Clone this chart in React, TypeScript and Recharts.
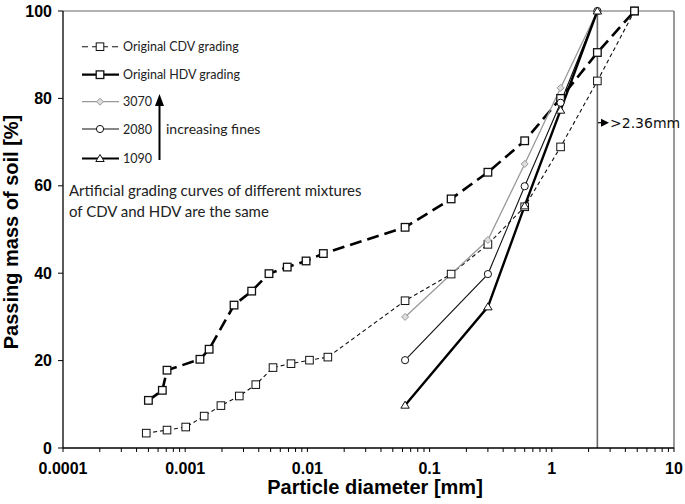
import { LineChart, Line, XAxis, YAxis, ReferenceLine, Legend } from 'recharts'

// ── data ──
const cdvSize = [0.00048, 0.00071, 0.00101, 0.00143, 0.00196, 0.00277, 0.00378, 0.00523, 0.00734, 0.0104, 0.0147, 0.063, 0.15, 0.3, 0.6, 1.18, 2.36, 4.75]
const cdvPassing = [3.4, 4.1, 4.8, 7.3, 9.7, 11.9, 14.5, 18.4, 19.3, 20.1, 20.8, 33.7, 39.8, 46.6, 55.2, 68.9, 84.0, 100]

const hdvSize = [0.0005, 0.00065, 0.00071, 0.00132, 0.00157, 0.00251, 0.0035, 0.00485, 0.00684, 0.00975, 0.0135, 0.063, 0.15, 0.3, 0.6, 1.18, 2.36, 4.75]
const hdvPassing = [10.9, 13.2, 17.8, 20.3, 22.6, 32.7, 35.9, 39.9, 41.4, 42.8, 44.5, 50.5, 57.0, 63.1, 70.3, 80.0, 90.5, 100]

const mixSize = [0.063, 0.3, 0.6, 1.18, 2.36]
const mix3070 = [30.0, 47.6, 65.0, 82.4, 100]
const mix2080 = [20.1, 39.8, 59.9, 79.0, 100]
const mix1090 = [9.8, 32.3, 55.4, 77.3, 100]

const xDecades = [0.0001, 0.001, 0.01, 0.1, 1, 10]
const xTickLabels = ['0.0001', '0.001', '0.01', '0.1', '1', '10']
const yTicks = [0, 20, 40, 60, 80, 100]

const zip = (xs: number[], ys: number[]) => xs.map((x, i) => ({ x, y: ys[i] }))

const xTicks: number[] = []
xDecades.slice(0, -1).forEach((d) => { for (let k = 1; k < 10; k++) xTicks.push(d * k) })
xTicks.push(10)

const TICK = { fill: '#000', fontSize: 16, fontWeight: 'bold', fontFamily: 'Liberation Sans, Arial, sans-serif' }

function squareDot(sw: number) {
    return (p: any) => (
        <rect key={p.key ?? p.index} x={p.cx - 3.8} y={p.cy - 3.8} width={7.6} height={7.6} fill="#fff" stroke="#111" strokeWidth={sw} />
    )
}
const circleDot = (p: any) => <circle key={p.key ?? p.index} cx={p.cx} cy={p.cy} r={3.6} fill="#fff" stroke="#111" strokeWidth={1} />
const diamondDot = (p: any) => (
    <path key={p.key ?? p.index} d={`M${p.cx},${p.cy - 3.5}L${p.cx + 3.5},${p.cy}L${p.cx},${p.cy + 3.5}L${p.cx - 3.5},${p.cy}Z`} fill="#ddd" stroke="#999" strokeWidth={1} />
)
const triangleDot = (p: any) => (
    <path key={p.key ?? p.index} d={`M${p.cx},${p.cy - 4}L${p.cx + 4.2},${p.cy + 3}L${p.cx - 4.2},${p.cy + 3}Z`} fill="#fff" stroke="#111" strokeWidth={1} />
)

const SERIES = [
    { name: 'Original CDV grading', data: zip(cdvSize, cdvPassing), stroke: '#111', width: 1.1, dash: '4 3', dot: squareDot(1) },
    { name: 'Original HDV grading', data: zip(hdvSize, hdvPassing), stroke: '#000', width: 2.6, dash: '12 6', dot: squareDot(1.3) },
    { name: '3070', data: zip(mixSize, mix3070), stroke: '#999', width: 1.3, dash: undefined, dot: diamondDot },
    { name: '2080', data: zip(mixSize, mix2080), stroke: '#111', width: 1.1, dash: undefined, dot: circleDot },
    { name: '1090', data: zip(mixSize, mix1090), stroke: '#000', width: 2.4, dash: undefined, dot: triangleDot },
]

const LEGEND_FONT = 'Lato, "Open Sans", sans-serif'

function GradingLegend() {
    const rows = [46.7, 74.7, 101.7, 129, 158.5]
    return (
        <svg width={685} height={230} style={{ display: 'block' }}>
            {SERIES.map((s, i) => {
                const y = rows[i]
                const legendDash = i === 0 ? '6 4' : undefined
                return (
                    <g key={s.name}>
                        <line x1={82} x2={119} y1={y} y2={y} stroke={s.stroke} strokeWidth={Math.min(s.width, 2.2)} strokeDasharray={legendDash} />
                        {s.dot({ cx: 100, cy: y, index: i, key: 'l' + i })}
                        <text x={123} y={y} dominantBaseline="central" fontSize={12.5} fontFamily={LEGEND_FONT} fill="#222">{s.name}</text>
                    </g>
                )
            })}
            <line x1={159.5} x2={159.5} y1={160} y2={104} stroke="#000" strokeWidth={2} />
            <path d="M159.5,94 L164,106 L155,106 Z" fill="#000" />
            <text x={166} y={128} dominantBaseline="central" fontSize={14} fontFamily={LEGEND_FONT} fill="#222">increasing fines</text>
            <text x={69} y={196} fontSize={15} fontFamily={LEGEND_FONT} fill="#222">Artificial grading curves of different mixtures</text>
            <text x={69} y={217} fontSize={15} fontFamily={LEGEND_FONT} fill="#222">of CDV and HDV are the same</text>
        </svg>
    )
}

export default function App() {
    return (
        <div style={{ position: 'absolute', left: 0, top: 0, width: 685, height: 504, background: '#fff' }}>
            <LineChart width={685} height={504} margin={{ top: 11, right: 11, left: 0, bottom: 0 }}>
                <XAxis
                    type="number" dataKey="x" scale="log" domain={[0.0001, 10]} ticks={xTicks} interval={0}
                    allowDataOverflow height={56} tickSize={4} tickMargin={11}
                    tickFormatter={(v: number) => { const i = xDecades.indexOf(v); return i >= 0 ? xTickLabels[i] : '' }}
                    tick={TICK} stroke="#000" axisLine={{ stroke: '#000', strokeWidth: 1.3 }} tickLine={{ stroke: '#000' }}
                />
                <YAxis
                    type="number" domain={[0, 100]} ticks={yTicks} interval={0} width={63}
                    tickSize={5} tickMargin={6} tick={TICK}
                    axisLine={{ stroke: '#000', strokeWidth: 1.3 }} tickLine={{ stroke: '#000' }}
                />
                <ReferenceLine y={100} stroke="#666" strokeWidth={1} />
                <ReferenceLine x={10} stroke="#555" strokeWidth={1.2} />
                <ReferenceLine x={2.36} stroke="#666" strokeWidth={1.6} />
                {SERIES.map((s) => (
                    <Line
                        key={s.name} data={s.data} dataKey="y" name={s.name} type="linear"
                        stroke={s.stroke} strokeWidth={s.width} strokeDasharray={s.dash}
                        dot={s.dot} activeDot={false} isAnimationActive={false}
                    />
                ))}
                <Legend
                    layout="vertical" align="center" verticalAlign="middle"
                    content={() => <GradingLegend />}
                    wrapperStyle={{ position: 'absolute', left: 0, top: 0, width: 685, height: 230 }}
                />
            </LineChart>
            <svg width={685} height={504} style={{ position: 'absolute', left: 0, top: 0, pointerEvents: 'none' }}>
                <line x1={598} x2={603} y1={122.7} y2={122.7} stroke="#000" strokeWidth={1.2} />
                <path d="M609,122.7 L601,118.7 L601,126.7 Z" fill="#000" />
                <text x={610} y={122.7} dominantBaseline="central" fontSize={14} fontFamily="DejaVu Sans, sans-serif" fill="#111">&gt;2.36mm</text>
                <text x={375} y={494} textAnchor="middle" fontSize={20} fontWeight="bold" fontFamily="Liberation Sans, Arial, sans-serif" fill="#000">Particle diameter [mm]</text>
                <text x={18} y={232} textAnchor="middle" transform="rotate(-90, 18, 232)" fontSize={20} fontWeight="bold" fontFamily="Liberation Sans, Arial, sans-serif" fill="#000">Passing mass of soil [%]</text>
            </svg>
        </div>
    )
}
